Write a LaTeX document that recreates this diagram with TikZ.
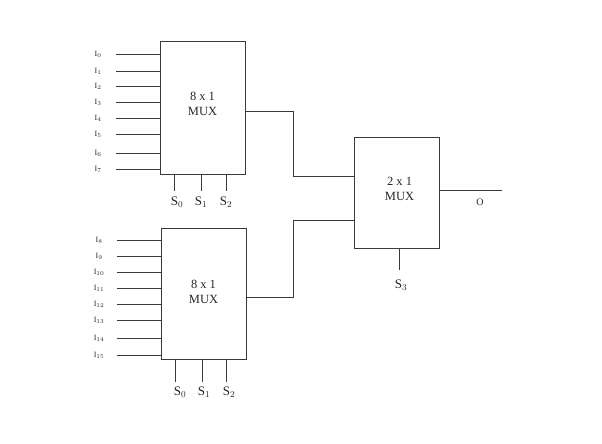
\documentclass[tikz,border=0pt]{standalone}
\usepackage{fontspec}
\usepackage{tikz}
\usetikzlibrary{positioning}
\setmainfont{Liberation Serif}
\definecolor{wirecol}{HTML}{3A3A3A}

\begin{document}
\begin{tikzpicture}[x=1pt, y=-1pt, wire/.style={draw=wirecol, line width=1pt}, block/.style={rectangle, wire, align=center, inner sep=0pt, font=\fontsize{12.5}{15}\selectfont, text=black!85}, inlabel/.style={font=\fontsize{8}{9}\selectfont, inner sep=0pt, text=black!85}, sellabel/.style={font=\fontsize{13}{15}\selectfont, inner sep=0pt, text=black!85}]
\useasboundingbox (0,0) rectangle (602,444);
\node [block, minimum width=85pt, minimum height=132pt] (muxA) at (202.5,108) {8 x 1\\MUX\\[-7pt]};
\node [block, minimum width=85pt, minimum height=131pt] (muxB) at (203.5,293.5) {8 x 1\\MUX\\[-12pt]};
\node [block, minimum width=85pt, minimum height=111pt] (muxC) at (396.5,192.5) {\hspace*{6pt}2 x 1\\\hspace*{6pt}MUX\\[-8pt]};
% inputs of the upper block
\foreach \n/\ypos in {0/54.5, 1/71, 2/86, 3/102.5, 4/118, 5/134.5, 6/153, 7/169} {
  \node [inlabel] (I\n) at (98,\ypos) {I$_{\n}$};
  \coordinate [right=18pt of I\n.center] (inA\n);
  \draw [wire] (inA\n) -- (inA\n -| muxA.west);
}
% inputs of the lower block
\foreach \n/\ypos in {8/240, 9/256, 10/272, 11/288, 12/304, 13/320, 14/338, 15/355} {
  \node [inlabel] (I\n) at (99,\ypos) {I$_{\n}$};
  \coordinate [right=18pt of I\n.center] (inB\n);
  \draw [wire] (inB\n) -- (inB\n -| muxB.west);
}
% select lines
\foreach \n/\xpos/\xlab in {0/174/177, 1/201/201, 2/226.5/226} {
  \node [sellabel] (SA\n) at (\xlab,202) {S$_{\n}$};
  \coordinate (selA\n) at (\xpos,191);
  \draw [wire] (selA\n) -- (selA\n |- muxA.south);
}
\foreach \n/\xpos/\xlab in {0/175.5/180, 1/202.5/204, 2/226/229} {
  \node [sellabel] (SB\n) at (\xlab,392) {S$_{\n}$};
  \coordinate (selB\n) at (\xpos,382);
  \draw [wire] (selB\n) -- (selB\n |- muxB.south);
}
\node [sellabel] (S3) at (401,285) {S$_3$};
\coordinate (selC) at (399,270);
\draw [wire] (selC) -- (selC |- muxC.south);
% links between the blocks
\coordinate (kneeA) at (293,111);
\coordinate (kneeB) at (293,176);
\coordinate (kneeC) at (293.5,297);
\coordinate (kneeD) at (293.5,220);
\draw [wire] (kneeA -| muxA.east) -- (kneeA) -- (kneeB) -- (kneeB -| muxC.west);
\draw [wire] (kneeC -| muxB.east) -- (kneeC) -- (kneeD) -- (kneeD -| muxC.west);
% output
\coordinate (outEnd) at (502,190);
\node [sellabel, font=\fontsize{10}{11}\selectfont] (O) at (480,202) {O};
\draw [wire] (outEnd -| muxC.east) -- (outEnd);
\end{tikzpicture}
\end{document}
